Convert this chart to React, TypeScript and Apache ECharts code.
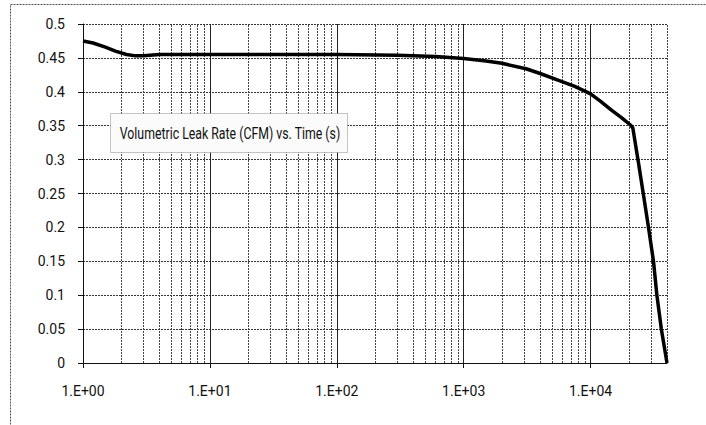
import React, { useEffect, useRef } from "react";
import * as echarts from "echarts";

const times = [1, 1.2, 1.5, 1.8, 2.2, 2.6, 3, 4, 6, 10, 30, 100, 300, 600, 1000, 1500, 2000, 3100, 4000, 5600, 7500, 10000, 12000, 14600, 17500, 20600, 21500, 23800, 26000, 28600, 31300, 33300, 36100, 40000];
const rates = [0.475, 0.472, 0.466, 0.46, 0.455, 0.453, 0.453, 0.455, 0.455, 0.455, 0.455, 0.455, 0.454, 0.452, 0.449, 0.4455, 0.442, 0.434, 0.427, 0.417, 0.408, 0.397, 0.386, 0.373, 0.362, 0.351, 0.347, 0.296, 0.25, 0.2, 0.15, 0.1, 0.05, 0];

const decades = [1, 10, 100, 1000, 10000];
const multipliers = [2, 3, 4, 5, 6, 7, 8, 9];
const xMin = 1;
const xMax = 40000;
const yMin = 0;
const yMax = 0.5;
const yStep = 0.05;
const boxTitle = "Volumetric Leak Rate (CFM) vs. Time (s)";

export default function App() {
  const ref = useRef<HTMLDivElement>(null);
  useEffect(() => {
    if (!ref.current) return;
    const chart = echarts.init(ref.current, undefined, { renderer: "svg" });
    const minorLines: number[] = [];
    decades.forEach((d) => {
      multipliers.forEach((m) => {
        const v = d * m;
        if (v <= xMax) minorLines.push(v);
      });
    });
    const majorLines = decades.filter((d) => d > xMin && d <= xMax);
    const font = "Roboto, 'Open Sans', sans-serif";
    chart.setOption({
      animation: false,
      backgroundColor: "#ffffff",
      grid: { left: 83, top: 24, right: 39, bottom: 62, containLabel: false },
      xAxis: {
        type: "log",
        logBase: 10,
        min: xMin,
        max: xMax,
        axisLine: { show: true, lineStyle: { color: "#111", width: 1 } },
        axisTick: { show: true, length: 5, inside: false, lineStyle: { color: "#111" } },
        axisLabel: {
          showMaxLabel: false,
          margin: 21,
          color: "#111",
          fontFamily: font,
          fontSize: 14,
          formatter: (v: number) => {
            const e = Math.round(Math.log10(v));
            if (Math.abs(Math.log10(v) - e) > 1e-6) return "";
            return "1.E+" + (e < 10 ? "0" + e : String(e));
          },
        },
        splitLine: { show: false },
        minorTick: { show: false },
      },
      yAxis: {
        type: "value",
        min: yMin,
        max: yMax,
        interval: yStep,
        axisLine: { show: true, lineStyle: { color: "#111", width: 1 } },
        axisTick: { show: true, length: 5, lineStyle: { color: "#111" } },
        axisLabel: {
          margin: 18,
          color: "#111",
          fontFamily: font,
          fontSize: 14,
          formatter: (v: number) => String(Math.round(v * 100) / 100),
        },
        splitLine: { show: true, lineStyle: { color: "#333", type: [2, 1], width: 1 } },
      },
      series: [
        {
          type: "line",
          data: times.map((t, i) => [t, rates[i]]),
          showSymbol: false,
          symbol: "none",
          smooth: false,
          lineStyle: { color: "#000", width: 3.5, join: "round" },
          z: 5,
          markLine: {
            silent: true,
            symbol: ["none", "none"],
            label: { show: false },
            animation: false,
            data: [
              ...minorLines.map((v) => ({ xAxis: v, lineStyle: { color: "#444", type: [2, 1], width: 1 } })),
              ...majorLines.map((v) => ({ xAxis: v, lineStyle: { color: "#222", type: "solid", width: 1 } })),
            ],
          },
        },
      ],
      graphic: [
        {
          type: "rect",
          silent: true,
          shape: { x: 10.5, y: 4.5, width: 900, height: 900 },
          style: { fill: "none", stroke: "#555", lineWidth: 1, lineDash: [2, 1] },
          z: 1,
        },
        {
          type: "rect",
          silent: true,
          shape: { x: 110.5, y: 113.5, width: 237, height: 39 },
          style: { fill: "#fbfbfb", stroke: "#888", lineWidth: 1, lineDash: [1, 1] },
          z: 10,
        },
        {
          type: "text",
          silent: true,
          x: 230,
          y: 133,
          scaleX: 0.77,
          z: 11,
          style: {
            text: boxTitle,
            fill: "#111",
            font: "16px Roboto, sans-serif",
            align: "center",
            verticalAlign: "middle",
          },
        },
      ],
    });
    return () => chart.dispose();
  }, []);
  return <div ref={ref} style={{ width: 706, height: 425, position: "absolute", left: 0, top: 0 }} />;
}
